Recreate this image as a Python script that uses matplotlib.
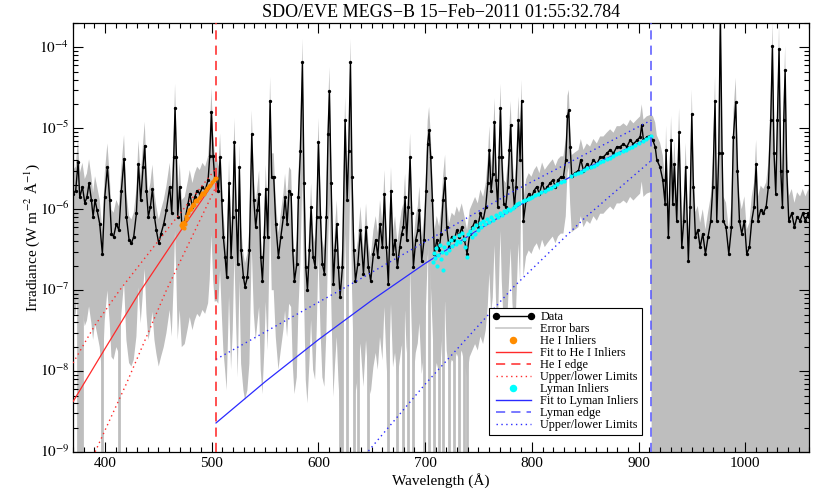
import numpy as np
import matplotlib
matplotlib.use("Agg")
import matplotlib.pyplot as plt
from matplotlib.lines import Line2D
from matplotlib.ticker import MultipleLocator, FixedLocator, NullFormatter

plt.rcParams['font.family'] = ['Liberation Serif', 'DejaVu Serif']
plt.rcParams['mathtext.fontset'] = 'stix'

# MEGS-B spectrum (Angstrom, W m^-2 A^-1)
wave = [370.0, 372.5, 374.7, 376.3, 378.8, 381.0, 383.0, 385.0, 387.2, 388.8,
        390.6, 392.5, 395.0, 397.5, 399.7, 402.2, 404.4, 406.0, 408.0, 410.6,
        413.0, 415.3, 417.8, 420.0, 422.5, 424.7, 426.9, 429.4, 431.3, 433.4,
        435.6, 437.2, 438.8, 440.6, 442.5, 444.4, 446.3, 448.1, 450.3, 452.5,
        455.0, 457.5, 460.6, 462.5, 464.4, 465.6, 466.9, 468.1, 470.0, 471.9,
        474.7, 477.8, 479.4, 481.9, 484.0, 486.3, 488.8, 491.3, 493.8, 496.6,
        498.1, 499.7, 501.3, 502.8, 504.4, 506.2, 507.8, 509.4, 510.9, 512.5,
        514.0, 516.2, 518.1, 519.7, 521.2, 522.8, 524.4, 525.9, 527.5, 529.7,
        531.2, 533.4, 535.3, 537.5, 539.4, 541.2, 542.8, 544.4, 545.9, 547.5,
        549.3, 550.6, 552.5, 554.7, 556.2, 558.1, 560.0, 562.5, 564.7, 567.2,
        568.7, 570.6, 572.5, 574.4, 575.9, 577.5, 579.7, 581.2, 583.1, 585.0,
        586.5, 588.1, 589.7, 591.5, 593.1, 595.0, 596.9, 598.4, 600.0, 601.9,
        603.7, 605.6, 607.5, 609.0, 610.3, 611.9, 614.0, 615.6, 617.2, 618.7,
        620.3, 622.5, 625.0, 626.9, 628.4, 630.0, 631.5, 633.1, 634.7, 636.9,
        639.4, 642.2, 644.6, 646.8, 649.0, 651.5, 653.7, 655.6, 657.7, 660.0,
        661.8, 663.7, 665.5, 668.0, 669.9, 671.8, 674.0, 676.2, 678.0, 679.6,
        681.2, 682.7, 684.3, 685.9, 687.4, 689.0, 691.2, 693.1, 694.6, 696.8,
        699.0, 700.9, 702.4, 703.7, 705.2, 706.8, 708.7, 710.9, 713.1, 714.9,
        716.8, 718.7, 720.2, 722.4, 724.9, 727.4, 729.6, 731.8, 734.3, 736.8,
        739.3, 741.8, 744.3, 746.8, 749.3, 751.8, 754.3, 756.8, 758.7, 760.2,
        761.8, 763.4, 765.0, 766.5, 768.1, 769.3, 770.6, 771.8, 773.7, 775.6,
        777.4, 779.0, 780.2, 781.8, 783.7, 785.2, 787.4, 789.0, 790.5, 792.1,
        794.6, 797.1, 799.6, 802.1, 804.6, 807.1, 809.6, 812.1, 814.6, 817.1,
        819.6, 822.1, 824.6, 827.1, 829.6, 831.8, 833.4, 834.6, 835.9, 837.4,
        840.5, 843.7, 845.9, 848.4, 851.5, 854.6, 857.7, 860.9, 864.0, 867.1,
        870.2, 873.4, 876.5, 879.6, 882.7, 885.9, 889.0, 892.1, 895.2, 898.4,
        901.5, 903.0, 904.6, 907.7, 910.9, 913.4, 915.6, 917.1, 920.2, 922.7,
        924.9, 925.8, 928.0, 930.5, 932.1, 933.6, 935.8, 938.0, 940.5, 942.4,
        944.2, 946.7, 948.3, 949.9, 951.4, 953.3, 955.5, 957.7, 960.2, 962.7,
        965.2, 967.7, 969.6, 971.7, 973.3, 975.2, 976.7, 978.3, 979.5, 982.0,
        984.6, 987.1, 988.9, 991.1, 992.7, 994.6, 996.7, 999.2, 1001.4, 1003.9,
        1006.1, 1008.3, 1010.2, 1012.0, 1014.5, 1017.0, 1019.6, 1021.7, 1023.9, 1025.5,
        1027.0, 1028.6, 1030.2, 1031.7, 1033.3, 1034.9, 1036.1, 1037.4, 1038.9, 1040.8,
        1043.6, 1046.1, 1048.6, 1051.4, 1053.9, 1056.4, 1059.2, 1060.0]
irr = [1.55e-6, 1.7e-6, 3.8e-6, 1.4e-6, 1.9e-6, 1.2e-6, 1.4e-6, 2.1e-6, 1.3e-6, 8.1e-7,
       1.3e-6, 9.8e-7, 6.6e-7, 2.8e-7, 1.4e-6, 3.3e-6, 1.3e-6, 5.0e-7, 4.6e-7, 6.6e-7,
       5.5e-7, 1.7e-6, 4.2e-6, 8.1e-7, 4.2e-7, 3.8e-7, 4.6e-7, 8.9e-7, 3.6e-6, 1.3e-6,
       3.3e-6, 6.1e-6, 1.7e-6, 8.1e-7, 1.07e-6, 1.8e-6, 8.1e-7, 5.5e-7, 3.8e-7, 5.0e-7,
       6.6e-7, 9.8e-7, 1.9e-6, 8.9e-7, 4.4e-6, 1.8e-5, 4.4e-6, 8.1e-7, 1.9e-6, 6.6e-7,
       7.2e-7, 1.17e-6, 1.55e-6, 1.07e-6, 1.4e-6, 1.7e-6, 1.55e-6, 1.9e-6, 1.7e-6, 2.3e-6,
       4.5e-6, 1.6e-5, 4.5e-6, 2.4e-6, 2.45e-6, 1.7e-6, 4.4e-6, 1.3e-6, 4.5e-7, 2.6e-7,
       1.45e-7, 2.1e-6, 2.6e-7, 8.1e-7, 6.8e-6, 9.8e-7, 2.1e-7, 3.3e-6, 3.1e-7, 1.45e-7,
       1.1e-7, 1.45e-7, 3.1e-7, 8.5e-6, 1.3e-6, 6.0e-7, 9.8e-7, 1.55e-6, 2.6e-7, 1.3e-7,
       4.5e-7, 1.8e-6, 4.5e-7, 2.2e-5, 2.5e-6, 2.5e-6, 6.6e-7, 2.6e-7, 4.5e-7, 8.1e-7,
       1.4e-6, 6.6e-7, 1.7e-6, 1.55e-6, 3.1e-7, 1.3e-7, 2.1e-7, 1.4e-6, 5.3e-6, 6.5e-5,
       2.1e-6, 1.95e-7, 1.0e-7, 3.1e-7, 1.07e-6, 2.6e-7, 1.95e-7, 8.1e-7, 6.8e-6, 8.1e-7,
       2.1e-7, 1.6e-7, 8.1e-7, 8.5e-6, 2.9e-5, 2.1e-6, 1.2e-7, 3.1e-7, 6.6e-7, 1.95e-7,
       8.3e-8, 1.95e-7, 1.25e-5, 1.3e-6, 5.3e-6, 6.5e-5, 2.5e-6, 3.1e-7, 1.3e-7, 2.1e-7,
       5.5e-7, 1.6e-7, 6.0e-7, 1.95e-7, 1.3e-7, 2.8e-7, 4.2e-7, 2.6e-7, 6.6e-7, 3.4e-7,
       1.55e-6, 3.4e-7, 1.2e-7, 1.7e-6, 2.8e-7, 4.2e-7, 1.95e-7, 3.4e-7, 5.0e-7, 6.0e-7,
       1.4e-6, 4.2e-7, 1.07e-6, 4.4e-6, 8.9e-7, 1.95e-7, 4.2e-7, 5.5e-7, 9.8e-7, 2.3e-7,
       4.2e-7, 1.7e-6, 6.4e-6, 9.4e-6, 4.4e-6, 1.3e-6, 2.8e-7, 4.2e-7, 3.1e-7, 5.0e-7,
       1.3e-6, 2.4e-6, 6.0e-7, 3.4e-7, 4.6e-7, 4.2e-7, 5.5e-7, 4.6e-7, 6.0e-7, 4.2e-7,
       2.8e-7, 5.0e-7, 6.0e-7, 7.2e-7, 6.0e-7, 8.9e-7, 7.2e-7, 1.07e-6, 2.1e-6, 5.4e-6,
       1.7e-6, 2.7e-6, 1.2e-5, 2.3e-6, 1.07e-6, 4.4e-6, 1.8e-5, 4.4e-6, 1.17e-6, 1.07e-6,
       1.9e-6, 5.4e-6, 1.1e-5, 2.3e-6, 1.07e-6, 1.9e-6, 1.25e-5, 4.1e-6, 2.2e-5, 7.2e-7,
       1.3e-6, 1.55e-6, 1.4e-6, 1.7e-6, 1.9e-6, 1.55e-6, 2.1e-6, 1.7e-6, 1.9e-6, 2.1e-6,
       2.3e-6, 1.9e-6, 2.3e-6, 2.5e-6, 2.5e-6, 4.1e-6, 1.4e-5, 1.66e-5, 5.9e-6, 2.6e-6,
       2.8e-6, 3.0e-6, 4.1e-6, 3.0e-6, 3.6e-6, 3.3e-6, 4.1e-6, 3.6e-6, 4.4e-6, 4.4e-6,
       4.9e-6, 5.4e-6, 4.9e-6, 5.9e-6, 5.9e-6, 6.4e-6, 5.9e-6, 7.1e-6, 6.4e-6, 7.1e-6,
       7.8e-6, 1.1e-5, 7.1e-6, 7.8e-6, 8.1e-6, 7.1e-6, 5.9e-6, 4.1e-6, 3.3e-6, 2.3e-6,
       1.17e-6, 5.4e-6, 4.6e-7, 7.1e-6, 1.17e-6, 3.6e-6, 7.2e-7, 8.9e-6, 3.4e-7, 7.2e-7,
       3.3e-6, 2.3e-7, 1.07e-6, 1.5e-5, 1.9e-6, 4.6e-7, 5.5e-7, 3.4e-7, 5.0e-7, 2.8e-7,
       4.6e-7, 7.2e-7, 1.9e-6, 2.2e-5, 7.2e-7, 4.9e-6, 2.5e-4, 4.9e-6, 7.2e-7, 6.0e-7,
       2.8e-7, 6.0e-7, 7.8e-6, 2.1e-5, 3.0e-6, 7.2e-7, 5.0e-7, 7.2e-7, 2.8e-7, 3.4e-7,
       7.2e-7, 1.07e-6, 3.6e-6, 7.2e-7, 9.8e-7, 8.9e-7, 1.07e-6, 1.9e-6, 1.25e-5, 1.04e-4,
       4.9e-6, 1.55e-6, 1.25e-5, 9.6e-5, 3.0e-6, 1.07e-6, 1.25e-5, 5.2e-5, 3.0e-6, 7.2e-7,
       8.9e-7, 6.0e-7, 8.1e-7, 7.2e-7, 8.9e-7, 7.2e-7, 8.9e-7, 8.0e-7]

# relative uncertainty by spectral band, and points whose error bar hits the floor
err_edges = [370, 505, 705, 790, 912, 1061]
err_rel = [0.97, 0.96, 0.97, 0.8, 1.0]
deep_err_wave = [374.7, 376.3, 378.8, 397.5, 413.0, 620.3, 622.5, 626.9, 633.1, 636.9,
                 646.8, 665.5, 674.0, 679.6, 684.3, 689.0, 699.0, 703.7, 708.7, 713.1,
                 716.8, 722.4, 727.4, 731.8, 736.8, 739.3]

# He I recombination continuum inliers
he_wave = [471.5, 472.0, 472.5, 473.0, 473.6, 474.2, 474.8, 475.5, 476.3, 477.0,
           477.8, 478.6, 479.4, 480.3, 481.2, 482.2, 483.3, 484.4, 485.5, 486.6,
           487.7, 488.8, 490.0, 491.2, 492.4, 493.6, 494.8, 496.0, 497.2, 498.4,
           500.6, 501.8, 503.0, 504.0]
he_irr = [6.3e-7, 6.0e-7, 6.8e-7, 6.5e-7, 5.8e-7, 7.0e-7, 6.6e-7, 7.5e-7, 8.2e-7, 7.8e-7,
          9.0e-7, 9.8e-7, 1.02e-6, 1.0e-6, 1.1e-6, 1.17e-6, 1.12e-6, 1.25e-6, 1.3e-6, 1.28e-6,
          1.38e-6, 1.42e-6, 1.5e-6, 1.6e-6, 1.55e-6, 1.7e-6, 1.72e-6, 1.85e-6, 1.95e-6, 2.0e-6,
          2.2e-6, 2.3e-6, 2.4e-6, 2.45e-6]

# Lyman continuum inliers
ly_wave = [707.5, 708.5, 709.5, 710.5, 711.5, 712.5, 713.5, 714.5, 715.5, 716.5,
           718.0, 719.5, 721.0, 722.5, 724.0, 725.5, 727.0, 728.5, 730.0, 731.5,
           733.0, 734.5, 736.0, 737.5, 739.0, 740.5, 742.0, 743.5, 745.0, 746.5,
           748.0, 749.5, 751.0, 752.5, 754.0, 756.0, 758.0, 760.0, 762.0, 764.0,
           766.0, 768.0, 770.0, 772.0, 774.0, 776.0, 778.0, 780.0, 782.0, 784.0,
           786.0, 788.0, 792.0, 794.0, 796.0, 798.0, 800.0, 803.0, 806.0, 809.0,
           812.0, 815.0, 818.0, 821.0, 824.0, 827.0, 830.0, 837.0, 840.0, 843.0,
           846.0, 849.0, 852.0, 855.0, 858.0, 861.0, 864.0, 867.0, 870.0, 873.0,
           876.0, 879.0, 882.0, 885.0, 888.0, 891.0, 894.0, 897.0, 900.0, 904.0,
           907.0, 910.0, 912.0]
ly_irr = [2.2e-7, 2.9e-7, 2.5e-7, 3.3e-7, 2.0e-7, 2.7e-7, 3.6e-7, 2.4e-7, 3.0e-7, 1.8e-7,
          3.4e-7, 2.9e-7, 3.8e-7, 3.1e-7, 4.2e-7, 3.5e-7, 4.5e-7, 3.7e-7, 4.0e-7, 4.8e-7,
          3.9e-7, 5.1e-7, 4.3e-7, 3.4e-7, 2.6e-7, 4.9e-7, 5.4e-7, 4.6e-7, 5.8e-7, 5.0e-7,
          6.3e-7, 5.5e-7, 6.8e-7, 6.0e-7, 7.1e-7, 6.5e-7, 7.6e-7, 7.0e-7, 8.0e-7, 7.4e-7,
          8.5e-7, 8.0e-7, 9.0e-7, 8.6e-7, 9.6e-7, 9.2e-7, 1.02e-6, 9.8e-7, 1.05e-6, 1.1e-6,
          1.15e-6, 1.2e-6, 1.25e-6, 1.3e-6, 1.32e-6, 1.38e-6, 1.42e-6, 1.5e-6, 1.55e-6, 1.62e-6,
          1.7e-6, 1.78e-6, 1.85e-6, 1.95e-6, 2.05e-6, 2.15e-6, 2.25e-6, 2.6e-6, 2.7e-6, 2.8e-6,
          2.9e-6, 3.05e-6, 3.2e-6, 3.3e-6, 3.45e-6, 3.6e-6, 3.8e-6, 3.95e-6, 4.15e-6, 4.35e-6,
          4.5e-6, 4.75e-6, 4.95e-6, 5.2e-6, 5.4e-6, 5.7e-6, 5.95e-6, 6.2e-6, 6.5e-6, 6.9e-6,
          7.3e-6, 7.7e-6, 8.0e-6]

# fitted continua and their limits
he_fit_wave = [370, 400, 432.5, 470, 504]
he_fit = [4.2e-9, 1.9e-8, 9.5e-8, 5.2e-7, 2.35e-6]
he_up_wave = [370, 390, 413.7, 460, 504]
he_up = [1.26e-8, 3.6e-8, 1.0e-7, 6.0e-7, 3.2e-6]
he_lo_wave = [380, 390.6, 420, 457.5, 504]
he_lo = [4.7e-10, 1.0e-9, 7.0e-9, 1.0e-7, 1.9e-6]

ly_fit_wave = [504, 550, 600, 650, 700, 750, 800, 850, 912]
ly_fit = [2.29e-9, 7.4e-9, 2.45e-8, 7.5e-8, 2.14e-7, 5.6e-7, 1.38e-6, 3.15e-6, 7.8e-6]
ly_up_wave = [504, 634, 784, 912]
ly_up = [1.4e-8, 1.26e-7, 1.7e-6, 1.26e-5]
ly_lo_wave = [600, 646, 700, 783, 850, 912]
ly_lo = [1.8e-10, 1.0e-9, 6.9e-9, 1.1e-7, 7.9e-7, 4.0e-6]

he_edge = 504.0
ly_edge = 911.8

y_exps = [-9, -8, -7, -6, -5, -4]

wave = np.array(wave)
irr = np.array(irr)
rel = np.array(err_rel)[np.searchsorted(err_edges, wave, side='right') - 1]
floor = 1e-11
lo = np.clip(irr * (1 - rel), floor, None)
hi = irr * (1 + rel)

fig = plt.figure(figsize=(8.3, 4.99), dpi=100)
ax = fig.add_axes([0.088, 0.094, 0.887, 0.86])

grey = '#bebebe'
ax.fill_between(wave, lo, hi, color=grey, lw=0, zorder=1)
idx = [int(np.argmin(np.abs(wave - w))) for w in deep_err_wave]
ax.vlines(wave[idx], floor, irr[idx], color=grey, lw=2.0, zorder=1)

ax.plot(wave, irr, color='black', lw=1.0, marker='.', ms=2.8, zorder=3)

red = '#ff2a2a'
blue = '#2a2aff'
ax.plot(he_fit_wave, he_fit, color=red, lw=0.9, zorder=4)
ax.plot(he_up_wave, he_up, color=red, lw=1.0, ls=(0, (1, 2.5)), zorder=4)
ax.plot(he_lo_wave, he_lo, color=red, lw=1.0, ls=(0, (1, 2.5)), zorder=4)
ax.plot(ly_fit_wave, ly_fit, color=blue, lw=0.9, zorder=4)
ax.plot(ly_up_wave, ly_up, color=blue, lw=1.0, ls=(0, (1, 2.5)), zorder=4)
ax.plot(ly_lo_wave, ly_lo, color=blue, lw=1.0, ls=(0, (1, 2.5)), zorder=4)

he_pts = ax.scatter(he_wave, he_irr, s=9, color='#ff8c00', zorder=5, lw=0)
ly_pts = ax.scatter(ly_wave, ly_irr, s=9, color='cyan', zorder=5, lw=0)

ax.axvline(he_edge, color='#ff2020', lw=1.1, ls=(0, (6, 4)), zorder=6)
ax.axvline(ly_edge, color='#5555ff', lw=1.1, ls=(0, (6, 4)), zorder=6)

ax.set_xlim(370, 1060)
ax.set_yscale('log')
ax.set_ylim(1e-9, 2.0e-4)
ax.xaxis.set_major_locator(MultipleLocator(100))
ax.xaxis.set_minor_locator(MultipleLocator(10))
ax.yaxis.set_major_locator(FixedLocator([10.0 ** e for e in y_exps]))
ax.yaxis.set_major_formatter(NullFormatter())
minor = [m * 10.0 ** e for e in y_exps[:-1] for m in range(2, 10)] + [2e-4]
ax.yaxis.set_minor_locator(FixedLocator(minor))
ax.yaxis.set_minor_formatter(NullFormatter())
ax.tick_params(which='both', direction='in', top=True, right=True, labelsize=11, width=0.8)
ax.tick_params(which='major', length=7)
ax.tick_params(which='minor', length=3.5)
for s in ax.spines.values():
    s.set_linewidth(0.9)

# y tick labels written as text so the superscript sits like the original
for e in y_exps:
    ax.text(-0.005, 10.0 ** e, r'$10^{%d}$' % e, transform=ax.get_yaxis_transform(),
            ha='right', va='center', fontsize=11)

ax.set_xlabel('Wavelength (Å)', fontsize=11, labelpad=2)
ax.set_ylabel('Irradiance (W m$^{-2}$ Å$^{-1}$)', fontsize=11)
ax.yaxis.set_label_coords(-0.042, 0.5)
ax.set_title('SDO/EVE MEGS\u2212B 15\u2212Feb\u22122011 01:55:32.784', fontsize=13, pad=4)

handles = [
    Line2D([], [], color='black', lw=1, marker='o', ms=2.4),
    Line2D([], [], color='#c8c8c8', lw=1.2),
    he_pts,
    Line2D([], [], color=red, lw=1),
    Line2D([], [], color=red, lw=1.1, ls=(0, (6, 4))),
    Line2D([], [], color=red, lw=1, ls=(0, (1, 2.5))),
    ly_pts,
    Line2D([], [], color=blue, lw=1),
    Line2D([], [], color='#5555ff', lw=1.1, ls=(0, (6, 4))),
    Line2D([], [], color=blue, lw=1, ls=(0, (1, 2.5))),
]
labels = ['Data', 'Error bars', 'He I Inliers', 'Fit to He I Inliers', 'He I edge',
          'Upper/lower Limits', 'Lyman Inliers', 'Fit to Lyman Inliers', 'Lyman edge',
          'Upper/lower Limits']
leg = ax.legend(handles, labels, loc='lower left', bbox_to_anchor=(0.565, 0.04),
                fontsize=8.8, numpoints=2, scatterpoints=1, scatteryoffsets=[0.5],
                markerscale=1.8, frameon=True, fancybox=False, framealpha=1,
                edgecolor='black', borderpad=0.3, labelspacing=0.0, handlelength=3.4,
                handletextpad=0.5, borderaxespad=0)
leg.get_frame().set_linewidth(0.8)

fig.savefig('out.png', dpi=100)
